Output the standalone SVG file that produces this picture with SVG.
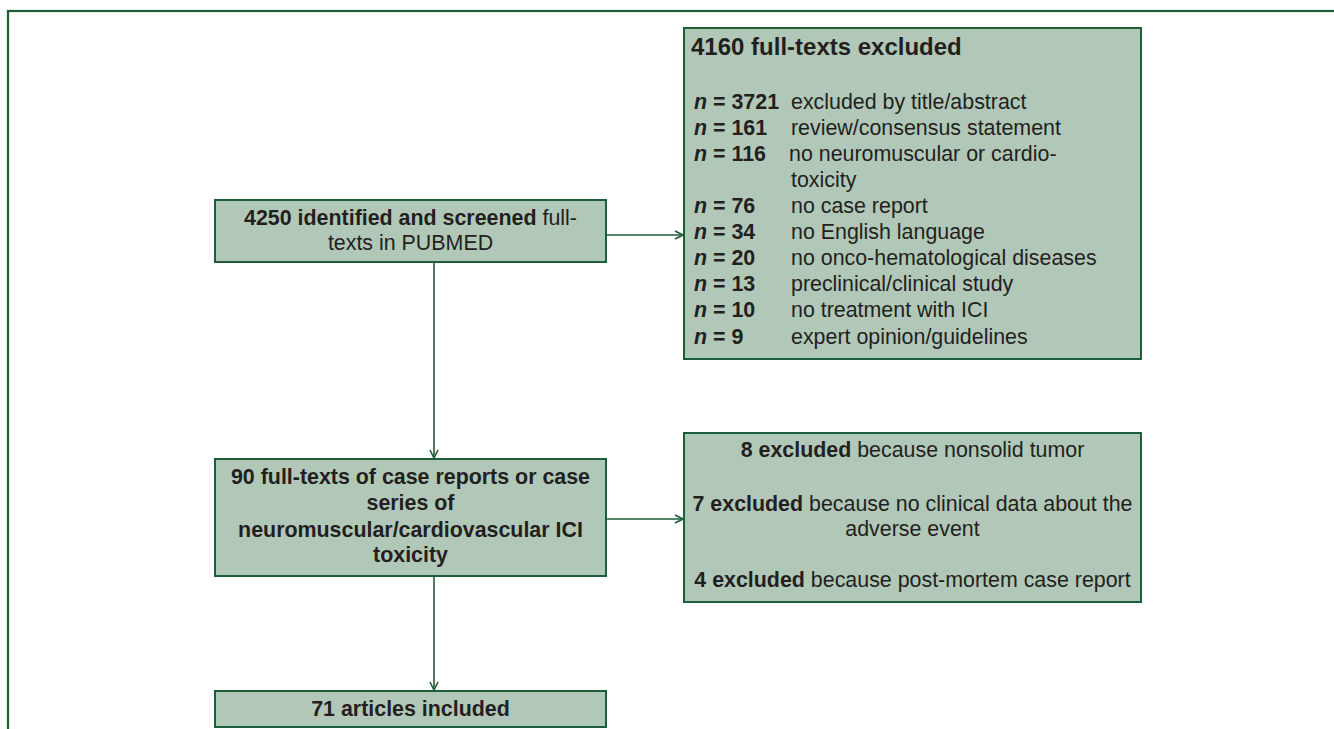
<svg xmlns="http://www.w3.org/2000/svg" width="1334" height="729" viewBox="0 0 1334 729">
<defs>
<marker id="arr" viewBox="0 0 10 10" refX="9" refY="5" markerWidth="10" markerHeight="10" markerUnits="userSpaceOnUse" orient="auto">
<polyline points="1,1 9,5 1,9" fill="none" stroke="#1d5e38" stroke-width="1.6"/>
</marker>
<style>
.box{fill:#b1c8b8;stroke:#1d5e38;stroke-width:2}
.t{font-family:"Liberation Sans",Arial,sans-serif;font-size:21.4px;fill:#231f20}
.b{font-weight:bold}
.c{text-anchor:middle}
.ln{stroke:#1d5e38;stroke-width:1.6;fill:none;marker-end:url(#arr)}
</style>
</defs>
<rect x="8" y="11" width="1340" height="730" fill="none" stroke="#1d5e38" stroke-width="2.2"/>
<g id="connectors">
<line class="ln" x1="606" y1="235" x2="683" y2="235"/>
<line class="ln" x1="434" y1="262" x2="434" y2="458"/>
<line class="ln" x1="606" y1="519" x2="683" y2="519"/>
<line class="ln" x1="434" y1="576" x2="434" y2="690"/>
</g>
<g id="excluded4160">
<rect class="box" x="684" y="28" width="457" height="331"/>
<text class="t b" x="691" y="55" style="font-size:24px">4160 full-texts excluded</text>
<text class="t" y="109.3"><tspan x="694" class="b" font-style="italic">n</tspan><tspan class="b"> = 3721</tspan><tspan x="791">excluded by title/abstract</tspan></text>
<text class="t" y="135.3"><tspan x="694" class="b" font-style="italic">n</tspan><tspan class="b"> = 161</tspan><tspan x="791">review/consensus statement</tspan></text>
<text class="t" y="161.3"><tspan x="694" class="b" font-style="italic">n</tspan><tspan class="b"> = 116</tspan><tspan x="789">no neuromuscular or cardio-</tspan></text>
<text class="t" x="791" y="187.3">toxicity</text>
<text class="t" y="213.3"><tspan x="694" class="b" font-style="italic">n</tspan><tspan class="b"> = 76</tspan><tspan x="791">no case report</tspan></text>
<text class="t" y="239.3"><tspan x="694" class="b" font-style="italic">n</tspan><tspan class="b"> = 34</tspan><tspan x="791">no English language</tspan></text>
<text class="t" y="265.3"><tspan x="694" class="b" font-style="italic">n</tspan><tspan class="b"> = 20</tspan><tspan x="791">no onco-hematological diseases</tspan></text>
<text class="t" y="291.3"><tspan x="694" class="b" font-style="italic">n</tspan><tspan class="b"> = 13</tspan><tspan x="791">preclinical/clinical study</tspan></text>
<text class="t" y="317.3"><tspan x="694" class="b" font-style="italic">n</tspan><tspan class="b"> = 10</tspan><tspan x="791">no treatment with ICI</tspan></text>
<text class="t" y="343.5"><tspan x="694" class="b" font-style="italic">n</tspan><tspan class="b"> = 9</tspan><tspan x="791">expert opinion/guidelines</tspan></text>
</g>
<g id="identified">
<rect class="box" x="215" y="200" width="391" height="62"/>
<text class="t c" x="410.5" y="225"><tspan class="b">4250 identified and screened</tspan> full-</text>
<text class="t c" x="410.5" y="250">texts in PUBMED</text>
</g>
<g id="fulltexts90">
<rect class="box" x="215" y="459" width="391" height="117"/>
<text class="t c b" x="410.5" y="483.5">90 full-texts of case reports or case</text>
<text class="t c b" x="410.5" y="510">series of</text>
<text class="t c b" x="410.5" y="536.5">neuromuscular/cardiovascular ICI</text>
<text class="t c b" x="410.5" y="562">toxicity</text>
</g>
<g id="excluded19">
<rect class="box" x="684" y="433" width="457" height="169"/>
<text class="t c" x="912.5" y="456.7"><tspan class="b">8 excluded</tspan> because nonsolid tumor</text>
<text class="t c" x="912.5" y="510.5"><tspan class="b">7 excluded</tspan> because no clinical data about the</text>
<text class="t c" x="912.5" y="536">adverse event</text>
<text class="t c" x="912.5" y="587.3"><tspan class="b">4 excluded</tspan> because post-mortem case report</text>
</g>
<g id="included71">
<rect class="box" x="215" y="691" width="391" height="36"/>
<text class="t c b" x="410.5" y="715.5">71 articles included</text>
</g>
</svg>
